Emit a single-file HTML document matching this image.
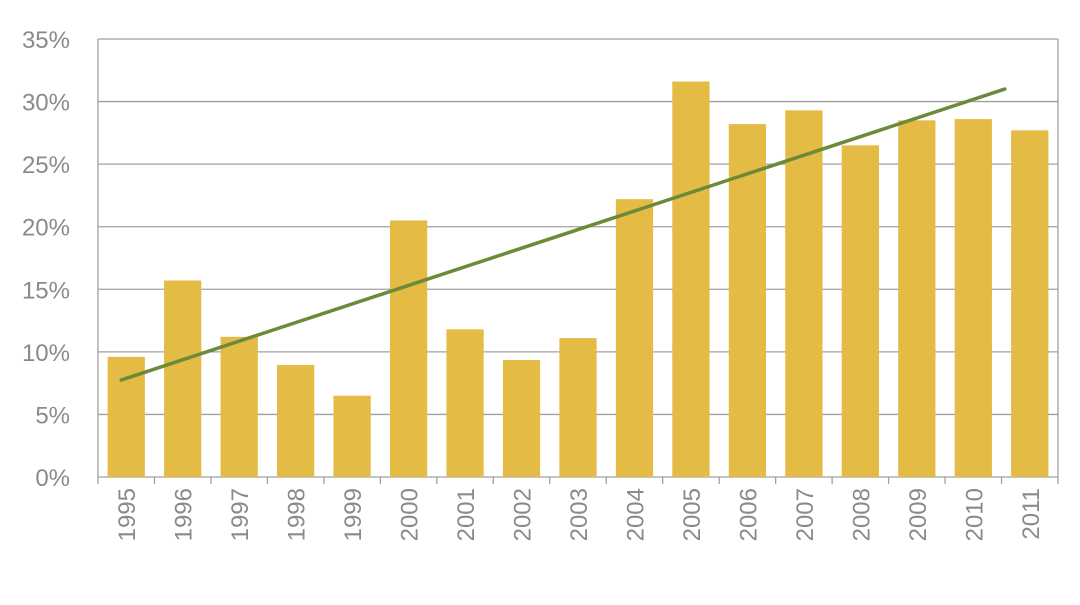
<!DOCTYPE html>
<html><head><meta charset="utf-8"><style>
body{margin:0;background:#fff;}
svg text{font-family:"Liberation Sans Narrow","Liberation Sans",sans-serif;fill:#8a8a8a;font-size:24px;}
</style></head><body>
<svg id="chart" width="1080" height="600"></svg>
<script>
const categories=["1995","1996","1997","1998","1999","2000","2001","2002","2003","2004","2005","2006","2007","2008","2009","2010","2011"];
const values=[9.6,15.7,11.2,8.95,6.5,20.5,11.8,9.35,11.1,22.2,31.6,28.2,29.3,26.5,28.5,28.6,27.7];
const trendValues=[7.75,31.0];
const yTicks=[0,5,10,15,20,25,30,35];
const yTickLabels=["0%","5%","10%","15%","20%","25%","30%","35%"];
const svg=document.getElementById('chart');
const NS="http://www.w3.org/2000/svg";
const L=98,R=1058,T=39,B=477,yMax=35;
const band=(R-L)/categories.length;
const x=i=>L+band*i;
const y=v=>B-(v/yMax)*(B-T);
function mk(tag,attrs,parent){const e=document.createElementNS(NS,tag);for(const k in attrs)e.setAttribute(k,attrs[k]);(parent||svg).appendChild(e);return e;}
yTicks.forEach((t,i)=>{
 const g=mk('line',{x1:L,x2:R,y1:y(t),y2:y(t),stroke:'#a0a0a0','stroke-width':1.3});
 
 
 const tx=mk('text',{x:70,y:y(t)+9,'text-anchor':'end'});
 tx.textContent=yTickLabels[i];
 
 
});
const ax=mk('line',{x1:L,x2:L,y1:T,y2:B,stroke:'#a0a0a0','stroke-width':1.3});


const rx=mk('line',{x1:R,x2:R,y1:T,y2:B,stroke:'#a0a0a0','stroke-width':1.3});


for(let i=0;i<=categories.length;i++){
 const tk=mk('line',{x1:x(i),x2:x(i),y1:B,y2:B+7,stroke:'#a0a0a0','stroke-width':1.3});
 
 
}
const bw=band*0.66;
categories.forEach((c,i)=>{
 const cx=x(i)+band/2;
 const r=mk('rect',{x:cx-bw/2,y:y(values[i]),width:bw,height:B-y(values[i]),fill:'#e3bb45'});
 
 
 const t=mk('text',{x:0,y:0,'text-anchor':'end',transform:`translate(${cx+9},488) rotate(-90)`});
 t.textContent=c;
 
 
});
const tl=mk('line',{x1:x(0)+band/2-5,y1:y(trendValues[0]),x2:x(categories.length-1)+band/2-25,y2:y(trendValues[1]),stroke:'#6b8a3a','stroke-width':3.5,'stroke-linecap':'round'});


</script>
</body></html>
